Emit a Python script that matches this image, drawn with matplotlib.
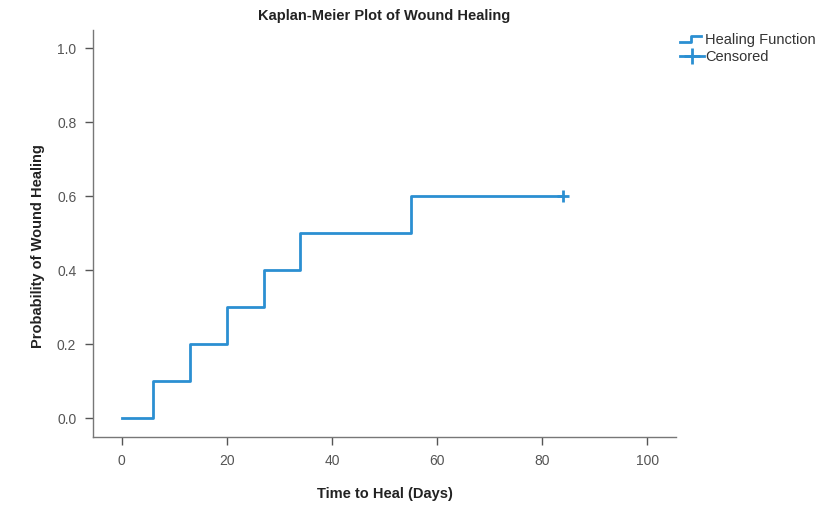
import numpy as np
import matplotlib
matplotlib.use('Agg')
import matplotlib.pyplot as plt
from matplotlib.lines import Line2D
from matplotlib.legend_handler import HandlerBase

plt.rcParams['font.family'] = ['Liberation Sans', 'DejaVu Sans']

# Kaplan-Meier steps
event_days = [0, 6, 13, 20, 27, 34, 55]
heal_prob = [0.0, 0.1, 0.2, 0.3, 0.4, 0.5, 0.6]
last_day = 84
censored_days = [84]
censored_prob = [0.6]

x_ticks = [0, 20, 40, 60, 80, 100]
y_ticks = [0.0, 0.2, 0.4, 0.6, 0.8, 1.0]

blue = '#2b8fd2'
grey = '#555555'


class StepHandler(HandlerBase):
    # draws a little step glyph like the SPSS legend
    def create_artists(self, legend, orig_handle, xdescent, ydescent,
                       width, height, fontsize, trans):
        xs = [0, width * 0.45, width * 0.45, width * 0.9]
        ys = [height * 0.2, height * 0.2, height * 0.85, height * 0.85]
        ln = Line2D(xs, ys, color=blue, lw=2, transform=trans)
        return [ln]


fig = plt.figure(figsize=(8.33, 5.07), dpi=100)
ax = fig.add_axes([0.1116, 0.138, 0.700, 0.803])

xs = event_days + [last_day]
ys = heal_prob + [heal_prob[-1]]
ax.step(xs, ys, where='post', color=blue, lw=2)
ax.plot(censored_days, censored_prob, marker='+', color=blue,
        markersize=9, markeredgewidth=2, ls='none')

ax.set_xlim(-5.5, 105.5)
ax.set_ylim(-0.051, 1.05)
ax.set_xticks(x_ticks)
ax.set_yticks(y_ticks)
ax.set_yticklabels(['%.1f' % v for v in y_ticks])

for side in ['top', 'right']:
    ax.spines[side].set_visible(False)
for side in ['left', 'bottom']:
    ax.spines[side].set_color('#777777')
    ax.spines[side].set_linewidth(1.0)
ax.tick_params(direction='out', length=6, width=1, color='#555555',
               labelcolor=grey, labelsize=10, pad=6)

ax.set_xlabel('Time to Heal (Days)', fontsize=10.5, fontweight='bold',
              color='#222222', labelpad=14)
ax.set_ylabel('Probability of Wound Healing', fontsize=10.5, fontweight='bold',
              color='#222222')
ax.yaxis.set_label_coords(-0.083, 0.47)
ax.set_title('Kaplan-Meier Plot of Wound Healing', fontsize=10.5,
             fontweight='bold', color='#222222', pad=7)

h_step = Line2D([], [], color=blue, lw=2)
h_cens = Line2D([], [], color=blue, lw=2, marker='+', markersize=11,
                markeredgewidth=2)
fig.legend([h_step, h_cens], ['Healing Function', 'Censored'],
           handler_map={h_step: StepHandler()},
           loc='upper left', bbox_to_anchor=(0.801, 0.96),
           frameon=False, fontsize=10.5, handlelength=1.6,
           handletextpad=0.1, labelspacing=0.2, labelcolor='#333333')

plt.savefig('out.png', dpi=100)
